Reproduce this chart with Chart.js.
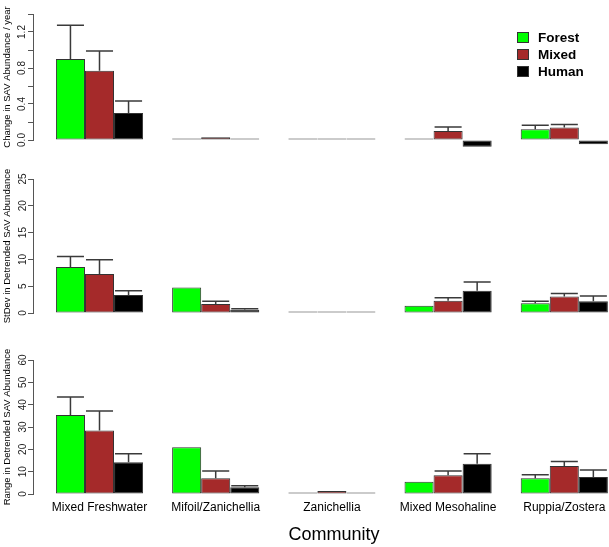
<!DOCTYPE html>
<html><head><meta charset="utf-8">
<script src="https://cdn.jsdelivr.net/npm/chart.js@4/dist/chart.umd.min.js"></script>
<style>
html,body{margin:0;padding:0;width:609px;height:547px;overflow:hidden;background:#fff;}
.panel{position:absolute;left:0;}
#legend{position:absolute;left:517px;top:29px;font:bold 13.5px "Liberation Sans",Arial,sans-serif;color:#000;}
.li{height:17px;display:flex;align-items:center;}
.sw{width:10px;height:9px;border:1px solid #333;margin-right:9px;box-sizing:content-box;}
</style></head><body>
<div class="panel" style="top:0"><canvas id="c1" width="635" height="160"></canvas></div>
<div class="panel" style="top:160px"><canvas id="c2" width="635" height="170"></canvas></div>
<div class="panel" style="top:330px"><canvas id="c3" width="635" height="217"></canvas></div>
<div id="legend"></div>
<script>
const communities = ['Mixed Freshwater','Mifoil/Zanichellia','Zanichellia','Mixed Mesohaline','Ruppia/Zostera'];
const landUse = ['Forest','Mixed','Human'];
const colors = ['#00FF00','#A52A2A','#000000'];

// Panel 1: Change in SAV abundance / year (mean, upper error)
const changeForest = [0.90, 0, 0, 0, 0.12];
const changeMixed  = [0.77, 0.03, 0, 0.10, 0.14];
const changeHuman  = [0.30, 0, 0, -0.074, -0.048];
const changeForestErr = [0.375, null, null, null, 0.044];
const changeMixedErr  = [0.22, null, null, 0.044, 0.033];
const changeHumanErr  = [0.134, null, null, null, null];
const changeTicks = [0, 0.2, 0.4, 0.6, 0.8, 1.0, 1.2, 1.4];
const changeTickLabels = ['0.0', '', '0.4', '', '0.8', '', '1.2', ''];

// Panel 2: StDev in detrended SAV abundance
const sdForest = [8.58, 4.78, 0.1, 1.36, 1.8];
const sdMixed  = [7.28, 1.68, 0.3, 2.3, 3.1];
const sdHuman  = [3.36, 0.6, 0.05, 4.16, 2.17];
const sdForestErr = [1.98, null, null, null, 0.37];
const sdMixedErr  = [2.66, 0.49, null, 0.56, 0.56];
const sdHumanErr  = [0.8, 0.2, null, 1.62, 1.0];
const sdTicks = [0, 5, 10, 15, 20, 25];
const sdTickLabels = ['0', '5', '10', '15', '20', '25'];

// Panel 3: Range in detrended SAV abundance
const rangeForest = [35.4, 20.9, 0.3, 5.5, 7.0];
const rangeMixed  = [28.4, 7.0, 1.3, 8.4, 12.5];
const rangeHuman  = [14.2, 3.0, 0.2, 13.6, 7.6];
const rangeForestErr = [8.0, null, null, null, 1.6];
const rangeMixedErr  = [8.8, 3.3, null, 1.9, 2.0];
const rangeHumanErr  = [3.8, 0.7, null, 4.4, 3.1];
const rangeTicks = [0, 10, 20, 30, 40, 50, 60];
const rangeTickLabels = ['0', '10', '20', '30', '40', '50', '60'];

const FAMILY = '"Liberation Sans", Arial, Helvetica, sans-serif';

const errorBars = {
  id: 'errorBars',
  afterDatasetsDraw(chart) {
    const ctx = chart.ctx, yScale = chart.scales.y;
    chart.data.datasets.forEach((ds, d) => {
      const meta = chart.getDatasetMeta(d);
      meta.data.forEach((bar, i) => {
        const e = ds.err[i];
        if (e == null) return;
        const top = yScale.getPixelForValue(ds.data[i].y + e);
        const half = bar.width / 2 - 1;
        ctx.save();
        ctx.strokeStyle = '#3a3a3a';
        ctx.lineWidth = 1.5;
        ctx.beginPath();
        ctx.moveTo(bar.x, bar.y); ctx.lineTo(bar.x, top);
        ctx.moveTo(bar.x - half, top); ctx.lineTo(bar.x + half, top);
        ctx.stroke();
        ctx.restore();
      });
    });
  }
};

function makeChart(id, series, errs, yTicks, yTickLabels, yTitle, padTop, padBottom, showX) {
  return new Chart(document.getElementById(id), {
    type: 'bar',
    data: {
      datasets: series.map((vals, d) => ({
        label: landUse[d],
        data: vals.map((v, i) => ({x: i, y: v})),
        err: errs[d],
        backgroundColor: colors[d],
        borderColor: '#333',
        borderWidth: 1,
        borderSkipped: false,
        minBarLength: 1.5,
        clip: false,
        categoryPercentage: 0.75,
        barPercentage: 1
      }))
    },
    options: {
      responsive: false, animation: false, devicePixelRatio: 1,
      layout: {padding: {top: padTop, bottom: padBottom, left: 0, right: 0}},
      plugins: {legend: {display: false}, tooltip: {enabled: false}},
      scales: {
        x: {
          type: 'linear', min: -0.5723, max: 4.6084, offset: false, display: showX,
          afterBuildTicks: s => { s.ticks = communities.map((c, i) => ({value: i})); },
          afterFit: s => { s.height = showX ? 53 : 0; },
          grid: {display: false, drawTicks: false},
          border: {display: false},
          ticks: {autoSkip: false, maxRotation: 0, minRotation: 0, padding: 6, color: '#000',
                  font: {size: 12, family: FAMILY}, callback: v => communities[v]},
          title: {display: showX, text: 'Community', color: '#000',
                  font: {size: 18, family: FAMILY}, padding: {top: 0, bottom: 1}}
        },
        y: {
          type: 'linear', min: yTicks[0], max: yTicks[yTicks.length - 1],
          afterBuildTicks: s => { s.ticks = yTicks.map(v => ({value: v})); },
          afterFit: s => { s.width = 33; },
          grid: {drawOnChartArea: false, drawTicks: true, tickLength: 5, color: '#555', lineWidth: 1},
          border: {display: true, color: '#555', width: 1},
          ticks: {minRotation: 90, maxRotation: 90, crossAlign: 'center', padding: -1, color: '#222',
                  font: {size: 10, family: FAMILY}, callback: (v, i) => yTickLabels[i]},
          title: {display: true, text: yTitle, color: '#000',
                  font: {size: 9.5, family: FAMILY}, padding: {top: 2, bottom: 0}}
        }
      }
    },
    plugins: [errorBars]
  });
}

makeChart('c1', [changeForest, changeMixed, changeHuman], [changeForestErr, changeMixedErr, changeHumanErr],
  changeTicks, changeTickLabels, 'Change in SAV Abundance / year', 14, 20, false);
makeChart('c2', [sdForest, sdMixed, sdHuman], [sdForestErr, sdMixedErr, sdHumanErr],
  sdTicks, sdTickLabels, 'StDev in Detrended SAV Abundance', 19, 17, false);
makeChart('c3', [rangeForest, rangeMixed, rangeHuman], [rangeForestErr, rangeMixedErr, rangeHumanErr],
  rangeTicks, rangeTickLabels, 'Range in Detrended SAV Abundance', 30, 0, true);

const legend = document.getElementById('legend');
landUse.forEach((name, d) => {
  const row = document.createElement('div');
  row.className = 'li';
  const sw = document.createElement('span');
  sw.className = 'sw';
  sw.style.background = colors[d];
  const t = document.createElement('span');
  t.textContent = name;
  row.appendChild(sw); row.appendChild(t);
  legend.appendChild(row);
});
</script>
</body></html>
